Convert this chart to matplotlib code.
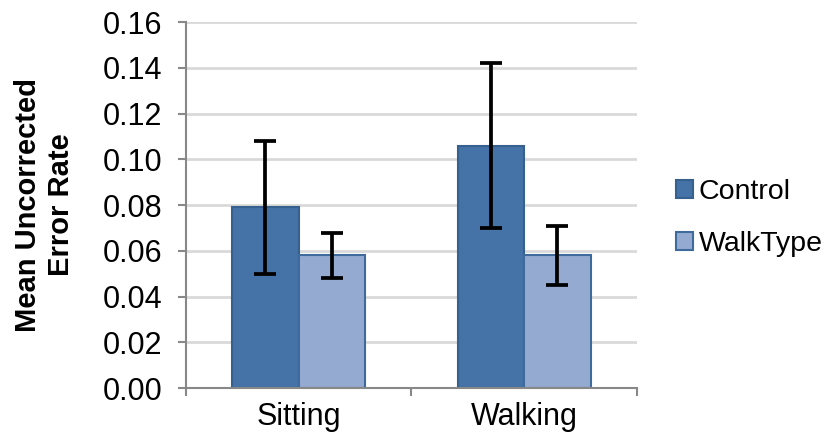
import numpy as np
import matplotlib
matplotlib.use('Agg')
import matplotlib.pyplot as plt

plt.rcParams['font.family'] = ['Liberation Sans', 'DejaVu Sans']

categories = ['Sitting', 'Walking']
series     = ['Control', 'WalkType']
means      = [[0.079, 0.106],    # Control
              [0.058, 0.058]]    # WalkType
errors     = [[0.029, 0.036],
              [0.010, 0.013]]
colors     = ['#4572A7', '#95AAD0']
edges      = ['#36618F', '#3F6A9C']
yticks     = [0.00, 0.02, 0.04, 0.06, 0.08, 0.10, 0.12, 0.14, 0.16]

fig = plt.figure(figsize=(8.28, 4.41), dpi=100)
ax = fig.add_axes([0.2246, 0.120, 0.5445, 0.830])

x = np.arange(len(categories))
w = 0.295
for i, name in enumerate(series):
    off = (i - 0.5) * w
    ax.bar(x + off, means[i], w, color=colors[i], edgecolor=edges[i],
           linewidth=1.5, label=name, zorder=2)
    ax.errorbar(x + off, means[i], yerr=errors[i], fmt='none', ecolor='black',
                elinewidth=2.7, capsize=8, capthick=2.7, zorder=3)

ax.set_xlim(-0.5, 1.5)
ax.set_ylim(0, 0.16)
ax.set_yticks(yticks)
ax.set_yticklabels(['%.2f' % v for v in yticks], fontsize=22)
ax.set_xticks([-0.5, 0.5, 1.5])
ax.set_xticklabels([])
ax.set_xticks(x, minor=True)
ax.set_xticklabels(categories, minor=True, fontsize=22)
ax.tick_params(axis='x', which='minor', length=0, pad=10)
ax.tick_params(axis='x', which='major', length=6, color='#888888', width=1.5, direction='out')
ax.tick_params(axis='y', length=6, color='#888888', width=1.5, direction='out', pad=11)

ax.yaxis.grid(True, color='#D9D9D9', linewidth=2, zorder=0)
ax.set_axisbelow(True)
for s in ['top', 'right']:
    ax.spines[s].set_visible(False)
for s in ['left', 'bottom']:
    ax.spines[s].set_color('#888888')
    ax.spines[s].set_linewidth(1.5)

ax.set_ylabel('Mean Uncorrected\nError Rate', fontsize=21, fontweight='bold',
              linespacing=1.2, labelpad=20)

ax.legend(loc='center left', bbox_to_anchor=(1.03, 0.465), frameon=False,
          fontsize=20.5, handlelength=0.6, handleheight=0.6, handletextpad=0.2,
          labelspacing=0.9)

fig.savefig('out.png', dpi=100)
